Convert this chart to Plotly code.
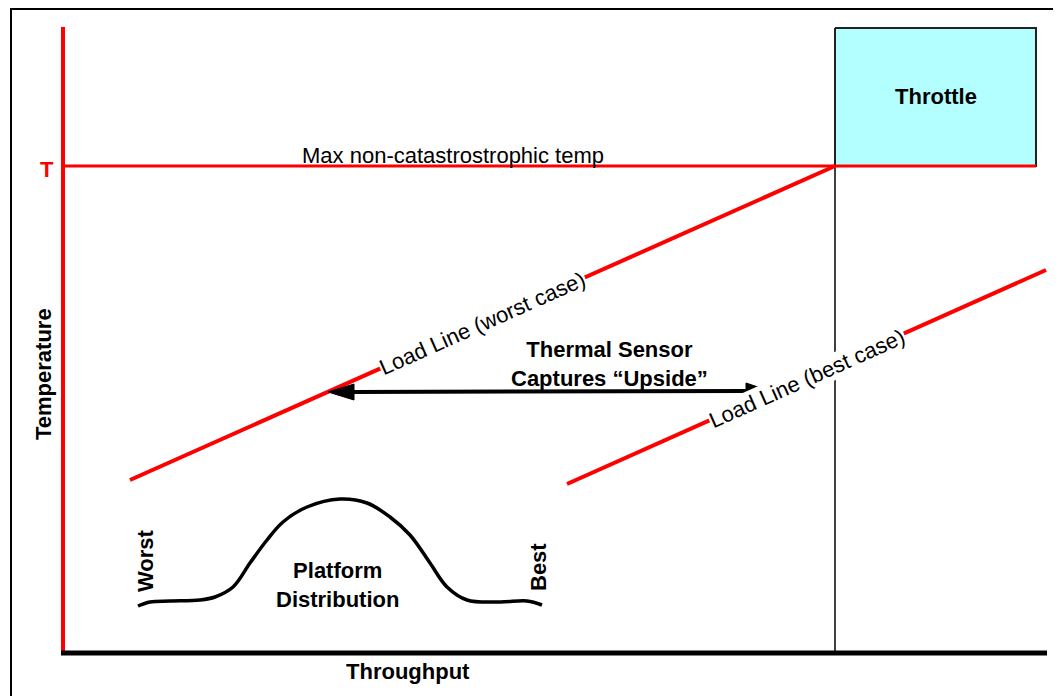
import plotly.graph_objects as go

W, H = 1061, 696
PAGE_OFFSET = 8  # default body margin of the html page
FONT = "Liberation Sans, Arial, Helvetica, sans-serif"
RED = "#ff0000"
BLACK = "#000000"

# ---- diagram geometry (pixel-like data space) ----
frame_x = [11, 11, 1070]
frame_y = [700, 9, 9]

temp_axis_x = [63, 63]
temp_axis_y = [27, 655]

thru_axis_x = [61, 1047]
thru_axis_y = [653, 653]

tmax_x = [63, 1036]
tmax_y = [166, 166]

throttle_x = [835, 1036, 1036, 835, 835]
throttle_y = [28, 28, 166, 166, 28]

limit_x = [835, 835]
limit_y = [166, 653]

worst_x = [130, 835]
worst_y = [480, 166]

best_x = [567, 1046]
best_y = [484, 270]

arrow_x = [352, 748]
arrow_y = [392, 391]
head_left_x = [328, 354, 354, 328]
head_left_y = [392, 384, 400, 392]
head_right_x = [770, 746, 746, 770]
head_right_y = [391, 383, 399, 391]

dist_x = [138, 150, 170, 200, 215, 233, 250, 267, 283, 307, 340, 367, 390, 410, 430, 447, 467, 500, 527, 542]
dist_y = [606, 602, 601, 600, 597, 587, 563, 540, 522, 507, 499, 503, 517, 535, 563, 587, 600, 602, 601, 605]

# ---- labels ----
labels = [
    # text, x, y, angle, size, bold, color, bg
    ("Max non-catastrostrophic temp", 453, 155, 0, 22, False, BLACK, None),
    ("Throttle", 936, 96, 0, 22, True, BLACK, None),
    ("T", 47, 169, 0, 22, True, RED, None),
    ("Temperature", 43, 374, -90, 22, True, BLACK, None),
    ("Throughput", 408, 671, 0, 22, True, BLACK, None),
    ("Thermal Sensor<br>Captures \u201cUpside\u201d", 609, 364, 0, 22, True, BLACK, None),
    ("Load Line (worst case)", 482, 323, -24, 22, False, BLACK, "white"),
    ("Load Line (best case)", 807, 378, -24, 22, False, BLACK, "white"),
    ("Platform<br>Distribution", 337, 585, 0, 22, True, BLACK, None),
    ("Worst", 145, 561, -90, 22, True, BLACK, None),
    ("Best", 538, 567, -90, 22, True, BLACK, None),
]

fig = go.Figure()

def line(x, y, color, width):
    fig.add_trace(go.Scatter(x=x, y=y, mode="lines", line=dict(color=color, width=width),
                             hoverinfo="skip", showlegend=False, cliponaxis=False))

# throttle box
fig.add_trace(go.Scatter(x=throttle_x, y=throttle_y, mode="lines", fill="toself",
                         fillcolor="#b3ffff", line=dict(color="#222222", width=2),
                         hoverinfo="skip", showlegend=False))
line(frame_x, frame_y, BLACK, 2)
line(limit_x, limit_y, BLACK, 1.5)
line(tmax_x, tmax_y, RED, 3)
line(temp_axis_x, temp_axis_y, RED, 4)
line(thru_axis_x, thru_axis_y, BLACK, 5)
line(worst_x, worst_y, RED, 4)
line(best_x, best_y, RED, 4)

fig.add_trace(go.Scatter(x=dist_x, y=dist_y, mode="lines",
                         line=dict(color=BLACK, width=3.5, shape="spline", smoothing=1.0),
                         hoverinfo="skip", showlegend=False))

annotations = []
for text, x, y, ang, size, bold, color, bg in labels:
    a = dict(x=x, y=y, xref="x", yref="y", showarrow=False, textangle=ang,
             text=f"<b>{text}</b>" if bold else text,
             font=dict(family=FONT, size=size, color=color),
             xanchor="center", yanchor="middle", borderpad=0)
    if bg:
        a["bgcolor"] = bg
    annotations.append(a)
fig.update_layout(annotations=annotations)

# double-headed arrow
line(arrow_x, arrow_y, BLACK, 4)
fig.add_trace(go.Scatter(x=head_left_x, y=head_left_y, mode="lines", fill="toself",
                         fillcolor=BLACK, line=dict(color=BLACK, width=1),
                         hoverinfo="skip", showlegend=False))
fig.add_trace(go.Scatter(x=head_right_x, y=head_right_y, mode="lines", fill="toself",
                         fillcolor=BLACK, line=dict(color=BLACK, width=1),
                         hoverinfo="skip", showlegend=False))

fig.update_layout(
    width=W, height=H,
    margin=dict(l=0, r=0, t=0, b=0),
    paper_bgcolor="white", plot_bgcolor="white",
    xaxis=dict(range=[PAGE_OFFSET, W + PAGE_OFFSET], visible=False, fixedrange=True),
    yaxis=dict(range=[H + PAGE_OFFSET, PAGE_OFFSET], visible=False, fixedrange=True),
    showlegend=False,
)

fig.write_html("out.html")
